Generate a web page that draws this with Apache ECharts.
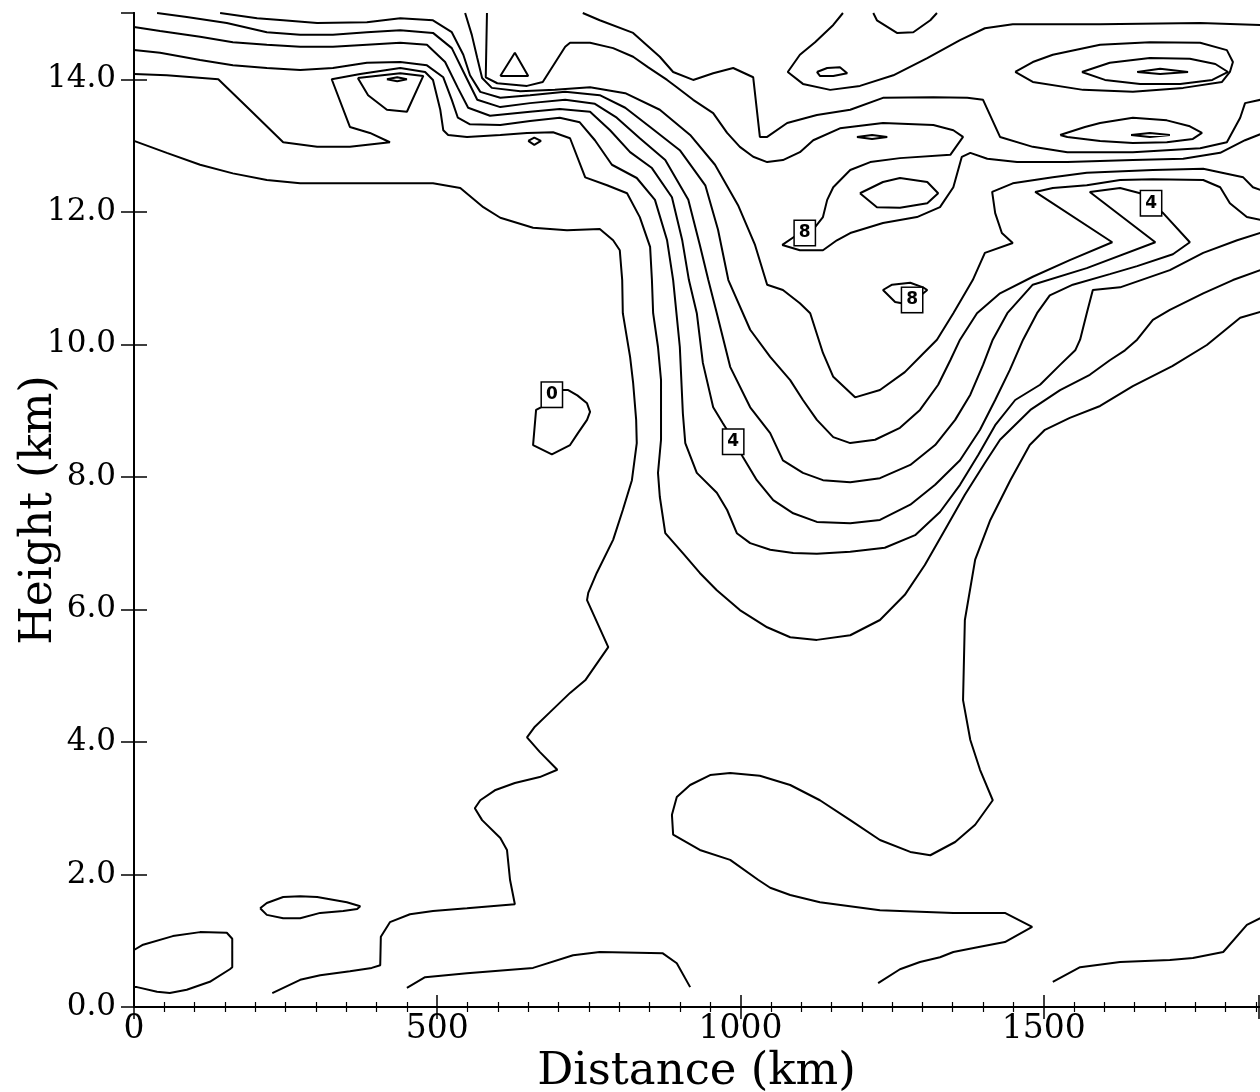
<!DOCTYPE html>
<html>
<head>
<meta charset="utf-8">
<script src="https://cdn.jsdelivr.net/npm/echarts@6/dist/echarts.min.js"></script>
<style>
  html, body { margin: 0; padding: 0; background: #fff; }
  #chart { width: 1260px; height: 1092px; }
</style>
</head>
<body>
<div id="chart"></div>
<script>
// Contour lines of a vertical cross-section, each point [distance (km), height (km)]
const isoWestOuter = [[0,13.07],[54,12.89],[109,12.71],[163,12.58],[219,12.48],[274,12.43],[384,12.43],[493,12.43],[538,12.36],[576,12.07],[604,11.91],[658,11.76],[714,11.72],[768,11.74],[790,11.57],[801,11.42],[805,10.97],[806,10.47],[818,9.81],[823,9.42],[828,8.86],[829,8.51],[821,7.95],[806,7.50],[790,7.05],[763,6.55],[749,6.25],[747,6.14],[782,5.43],[744,4.93],[719,4.74],[686,4.45],[661,4.23],[648,4.07],[669,3.85],[698,3.58],[669,3.47],[628,3.38],[595,3.27],[571,3.12],[562,3.00],[574,2.82],[604,2.55],[615,2.37],[620,1.92],[628,1.55],[549,1.49],[493,1.45],[455,1.40],[422,1.28],[407,1.06],[406,0.63],[392,0.59],[356,0.54],[307,0.48],[274,0.41],[228,0.21]];
const isoZeroCell = [[706,9.31],[716,9.31],[731,9.23],[747,9.11],[752,8.98],[747,8.86],[732,8.66],[719,8.48],[689,8.34],[658,8.48],[656,8.51],[663,9.01],[671,9.05]];
const isoLowLeft = [[0,0.86],[15,0.94],[64,1.07],[109,1.13],[153,1.12],[162,1.03],[162,0.60],[158,0.57],[125,0.38],[87,0.26],[59,0.21],[38,0.23],[5,0.30],[0,0.30]];
const isoLowCell = [[208,1.49],[219,1.57],[246,1.66],[274,1.67],[302,1.66],[351,1.58],[373,1.52],[368,1.48],[345,1.45],[307,1.42],[274,1.34],[246,1.34],[219,1.39],[208,1.49]];
const isoSurfaceMid = [[450,0.29],[480,0.45],[549,0.51],[658,0.59],[724,0.78],[768,0.83],[872,0.81],[895,0.66],[917,0.30]];
const isoSurfaceEast = [[1515,0.38],[1560,0.60],[1626,0.68],[1708,0.71],[1746,0.74],[1796,0.83],[1835,1.24],[1857,1.34]];
const isoEastOuter = [[1857,10.49],[1824,10.40],[1769,9.99],[1712,9.67],[1647,9.37],[1593,9.07],[1543,8.89],[1502,8.71],[1477,8.48],[1445,7.95],[1412,7.35],[1387,6.75],[1370,5.84],[1367,4.63],[1379,4.03],[1395,3.58],[1416,3.12],[1387,2.75],[1354,2.49],[1313,2.29],[1280,2.34],[1230,2.52],[1181,2.82],[1131,3.12],[1082,3.35],[1032,3.49],[983,3.53],[950,3.50],[917,3.35],[895,3.17],[887,2.90],[889,2.60],[933,2.37],[983,2.22],[1029,1.92],[1049,1.80],[1082,1.69],[1131,1.58],[1230,1.46],[1351,1.42],[1436,1.42],[1481,1.21],[1436,0.98],[1395,0.91],[1351,0.83],[1329,0.75],[1296,0.68],[1263,0.57],[1227,0.36]];

// Nested trough lines, outer to inner
const isoTrough2 = [[0,14.08],[54,14.06],[139,14.00],[191,13.54],[246,13.05],[302,12.98],[356,12.98],[422,13.05],[389,13.19],[356,13.28],[326,14.00],[373,14.08],[439,14.17],[480,14.11],[493,13.99],[505,13.54],[510,13.23],[518,13.16],[549,13.13],[604,13.16],[648,13.19],[691,13.20],[719,13.11],[744,12.52],[780,12.40],[813,12.28],[834,11.92],[851,11.47],[854,10.97],[856,10.47],[864,9.96],[869,9.46],[869,8.56],[864,8.06],[867,7.70],[876,7.15],[905,6.85],[933,6.55],[961,6.29],[999,5.99],[1044,5.73],[1082,5.58],[1126,5.54],[1181,5.61],[1230,5.84],[1271,6.22],[1304,6.67],[1337,7.20],[1370,7.73],[1403,8.21],[1428,8.56],[1478,9.01],[1527,9.31],[1576,9.54],[1609,9.76],[1634,9.91],[1654,10.07],[1680,10.37],[1708,10.52],[1763,10.77],[1812,10.97],[1857,11.12]];
const isoTrough3 = [[0,14.44],[43,14.40],[109,14.29],[163,14.21],[219,14.17],[274,14.14],[328,14.17],[384,14.25],[439,14.26],[483,14.21],[510,14.03],[524,13.69],[534,13.42],[554,13.32],[604,13.31],[653,13.37],[702,13.42],[735,13.35],[760,13.08],[788,12.71],[829,12.51],[859,12.18],[879,11.57],[889,10.97],[900,9.96],[905,8.96],[909,8.51],[928,8.06],[961,7.76],[978,7.50],[994,7.15],[1016,7.00],[1049,6.90],[1087,6.85],[1126,6.84],[1181,6.87],[1238,6.93],[1288,7.12],[1329,7.47],[1362,7.88],[1392,8.33],[1420,8.78],[1453,9.16],[1494,9.39],[1527,9.69],[1552,9.91],[1560,10.07],[1571,10.47],[1581,10.82],[1626,10.86],[1708,11.12],[1763,11.38],[1819,11.57],[1857,11.68]];
const isoTrough45 = [[0,14.79],[43,14.73],[109,14.64],[163,14.56],[219,14.52],[274,14.49],[328,14.49],[384,14.52],[439,14.55],[483,14.52],[513,14.26],[534,13.87],[551,13.57],[587,13.45],[653,13.51],[702,13.55],[752,13.51],[785,13.23],[818,12.90],[854,12.66],[887,12.22],[904,11.57],[915,10.97],[928,10.47],[938,9.72],[955,9.05],[971,8.81],[988,8.56],[1004,8.30],[1027,7.95],[1054,7.65],[1087,7.45],[1126,7.32],[1181,7.30],[1230,7.35],[1280,7.58],[1321,7.88],[1362,8.25],[1395,8.71],[1420,9.16],[1444,9.61],[1466,10.07],[1489,10.47],[1510,10.74],[1548,10.90],[1609,11.06],[1654,11.18],[1713,11.36],[1741,11.54],[1697,11.98],[1675,12.13],[1659,12.28],[1626,12.36],[1576,12.30],[1684,11.54],[1571,11.15],[1482,10.90],[1440,10.47],[1416,10.07],[1400,9.69],[1379,9.24],[1354,8.86],[1321,8.48],[1280,8.18],[1230,7.98],[1181,7.92],[1136,7.95],[1103,8.06],[1070,8.25],[1049,8.66],[1016,9.05],[983,9.66],[961,10.47],[947,10.97],[933,11.50],[914,12.18],[876,12.78],[834,13.11],[796,13.42],[760,13.63],[711,13.69],[653,13.64],[604,13.58],[566,13.69],[546,14.06],[524,14.47],[493,14.70],[439,14.74],[384,14.71],[328,14.67],[274,14.67],[219,14.71],[153,14.85],[87,14.94],[38,15.00]];
const isoTrough6 = [[142,15.00],[203,14.92],[246,14.89],[302,14.85],[384,14.86],[439,14.92],[493,14.89],[524,14.71],[543,14.37],[554,14.06],[571,13.81],[604,13.72],[653,13.76],[711,13.81],[768,13.76],[810,13.57],[851,13.28],[900,12.93],[942,12.40],[963,11.73],[980,10.97],[1016,10.22],[1049,9.81],[1082,9.46],[1103,9.16],[1126,8.86],[1153,8.60],[1181,8.51],[1222,8.56],[1263,8.74],[1296,9.01],[1326,9.39],[1346,9.76],[1362,10.07],[1390,10.47],[1428,10.77],[1482,11.02],[1543,11.27],[1613,11.54],[1486,12.30],[1515,12.36],[1571,12.40],[1626,12.48],[1680,12.49],[1763,12.48],[1791,12.37],[1807,12.13],[1835,11.92],[1857,11.88]];
const isoTrough7 = [[546,15.00],[557,14.67],[566,14.32],[574,14.02],[590,13.87],[637,13.82],[694,13.84],[752,13.88],[810,13.79],[867,13.54],[917,13.16],[958,12.71],[996,12.10],[1024,11.50],[1044,10.90],[1070,10.82],[1098,10.62],[1115,10.47],[1136,9.87],[1153,9.51],[1189,9.20],[1230,9.31],[1271,9.58],[1299,9.84],[1324,10.07],[1351,10.47],[1383,10.97],[1403,11.38],[1449,11.53],[1431,11.68],[1420,11.98],[1415,12.30],[1449,12.43],[1515,12.52],[1571,12.59],[1680,12.63],[1763,12.65],[1829,12.52],[1845,12.37],[1857,12.33]];

// Upper-level lines and closed cells
const isoCrest8 = [[582,15.00],[580,14.03],[599,13.94],[648,13.90],[674,13.96],[711,14.49],[719,14.55],[752,14.55],[790,14.47],[823,14.34],[848,14.18],[879,13.99],[895,13.88],[922,13.69],[955,13.49],[978,13.19],[999,12.98],[1021,12.83],[1044,12.75],[1070,12.78],[1098,12.90],[1120,13.08],[1164,13.26],[1235,13.34],[1318,13.31],[1351,13.23],[1367,13.13],[1346,12.86],[1263,12.81],[1214,12.75],[1181,12.63],[1153,12.37],[1143,12.18],[1136,11.92],[1123,11.77],[1093,11.65],[1069,11.50],[1098,11.42],[1136,11.42],[1159,11.57],[1181,11.68],[1235,11.83],[1291,11.92],[1329,12.07],[1351,12.37],[1365,12.83],[1379,12.89],[1407,12.80],[1456,12.75],[1539,12.75],[1647,12.78],[1730,12.80],[1791,12.89],[1832,13.08],[1857,13.17]];
const isoUpperNotch = [[740,15.00],[768,14.89],[823,14.70],[867,14.34],[889,14.11],[922,13.99],[955,14.09],[988,14.17],[1021,14.03],[1032,13.13],[1044,13.13],[1077,13.34],[1126,13.46],[1181,13.54],[1235,13.72],[1318,13.73],[1374,13.72],[1400,13.69],[1428,13.13],[1482,12.98],[1539,12.90],[1647,12.90],[1758,12.96],[1802,13.05],[1824,13.42],[1832,13.64],[1857,13.69]];
const isoUpperHook = [[1169,15.00],[1153,14.82],[1123,14.56],[1098,14.37],[1078,14.11],[1103,13.93],[1148,13.84],[1197,13.90],[1252,14.06],[1308,14.32],[1362,14.59],[1403,14.77],[1449,14.83],[1593,14.83],[1758,14.85],[1857,14.82]];
const isoTopDip = [[1219,15.00],[1225,14.89],[1258,14.70],[1285,14.71],[1313,14.89],[1324,15.00]];
const cellNorth = [[1126,14.11],[1143,14.17],[1164,14.18],[1176,14.09],[1153,14.05],[1131,14.05],[1126,14.11]];
const cellEastOuter = [[1453,14.11],[1482,14.26],[1515,14.37],[1593,14.52],[1675,14.56],[1758,14.55],[1802,14.44],[1812,14.26],[1807,14.11],[1794,13.96],[1730,13.87],[1647,13.81],[1565,13.84],[1482,13.96],[1453,14.11]];
const cellEastMiddle = [[1563,14.11],[1609,14.25],[1675,14.32],[1741,14.31],[1783,14.23],[1804,14.11],[1778,13.99],[1725,13.93],[1659,13.93],[1601,13.99],[1563,14.11]];
const cellEastCore = [[1654,14.11],[1692,14.16],[1738,14.11],[1692,14.08],[1654,14.11]];
const cellEastLower = [[1527,13.16],[1568,13.28],[1593,13.34],[1647,13.42],[1703,13.38],[1741,13.29],[1761,13.19],[1746,13.10],[1703,13.05],[1647,13.04],[1593,13.07],[1539,13.13],[1527,13.16]];
const cellEastLowerCore = [[1644,13.16],[1675,13.19],[1708,13.16],[1675,13.13],[1644,13.16]];
const cellDash = [[1192,13.13],[1217,13.16],[1242,13.13],[1217,13.10],[1192,13.13]];
const cellEye = [[1197,12.28],[1235,12.45],[1263,12.51],[1308,12.45],[1326,12.28],[1308,12.13],[1263,12.06],[1225,12.07],[1197,12.28]];
const cellEight = [[1266,10.62],[1255,10.64],[1235,10.82],[1250,10.90],[1280,10.93],[1301,10.86],[1308,10.82],[1288,10.67],[1266,10.62]];
const cellWestLoop = [[369,14.02],[386,13.76],[417,13.54],[450,13.51],[477,14.05],[439,14.09],[369,14.02]];
const cellWestCore = [[417,14.00],[434,14.03],[450,14.00],[434,13.97],[417,14.00]];
const cellTriangle = [[604,14.05],[628,14.40],[650,14.05],[604,14.05]];
const cellSmall = [[650,13.07],[660,13.12],[671,13.07],[660,13.01],[650,13.07]];

// Contour value labels: [distance, height, value]
const contourLabels = [[689,9.24,0],[988,8.53,4],[1106,11.68,8],[1283,10.67,8],[1677,12.13,4]];

const contours = [isoWestOuter, isoZeroCell, isoLowLeft, isoLowCell, isoSurfaceMid, isoSurfaceEast,
  isoEastOuter, isoTrough2, isoTrough3, isoTrough45, isoTrough6, isoTrough7, isoCrest8,
  isoUpperNotch, isoUpperHook, isoTopDip, cellNorth, cellEastOuter, cellEastMiddle, cellEastCore,
  cellEastLower, cellEastLowerCore, cellDash, cellEye, cellEight, cellWestLoop, cellWestCore,
  cellTriangle, cellSmall];

const serif = 'DejaVu Serif';
const ink = '#000';

function axisX(pos, showLabels) {
  return {
    type: 'value', position: pos, min: 0, max: 1855, interval: 500,
    name: showLabels ? 'Distance (km)' : '', nameLocation: 'middle', nameGap: 43, nameMoveOverlap: false,
    nameTextStyle: { fontFamily: serif, fontSize: 45, color: ink },
    axisLine: { show: true, lineStyle: { color: ink, width: 2 } },
    axisTick: { show: true, inside: true, length: 12, lineStyle: { color: ink, width: 1.5 } },
    minorTick: { show: true, splitNumber: 10, length: 5, lineStyle: { color: ink, width: 1.2 } },
    axisLabel: { show: showLabels, showMaxLabel: false, margin: 6, fontFamily: serif, fontSize: 33, color: ink,
      formatter: v => String(v) },
    splitLine: { show: false }, minorSplitLine: { show: false }
  };
}
function axisY(pos, showLabels) {
  return {
    type: 'value', position: pos, min: 0, max: 15, interval: 2,
    name: showLabels ? 'Height (km)' : '', nameLocation: 'middle', nameGap: 72, nameRotate: 90,
    nameMoveOverlap: false,
    nameTextStyle: { fontFamily: serif, fontSize: 44, color: ink },
    axisLine: { show: true, lineStyle: { color: ink, width: 2 } },
    axisTick: { show: true, inside: true, length: 13, lineStyle: { color: ink, width: 1.5 } },
    axisLabel: { show: showLabels, showMaxLabel: false, margin: 18, fontFamily: serif, fontSize: 31, color: ink,
      formatter: v => v.toFixed(1) },
    splitLine: { show: false }
  };
}

const series = contours.map(c => ({
  type: 'line', data: c, showSymbol: false, silent: true, animation: false,
  lineStyle: { color: ink, width: 2 }, clip: true, z: 2
}));
// Boxed contour values drawn on top of the lines
series.push({
  type: 'scatter', data: contourLabels, symbolSize: 0, silent: true, animation: false, z: 5,
  itemStyle: { opacity: 1 },
  label: {
    show: true, position: 'inside', formatter: p => String(p.value[2]), opacity: 1,
    fontFamily: 'DejaVu Sans', fontWeight: 'bold', fontSize: 17, color: ink,
    backgroundColor: '#fff', borderColor: ink, borderWidth: 1.5, padding: [4, 4, 3, 4]
  }
});

const chart = echarts.init(document.getElementById('chart'), null, { renderer: 'canvas' });
chart.setOption({
  animation: false,
  backgroundColor: '#fff',
  grid: { left: 134, right: 1, top: 13, bottom: 85, containLabel: false, outerBoundsMode: 'none' },
  xAxis: [axisX('bottom', true), axisX('top', false)],
  yAxis: [axisY('left', true), axisY('right', false)],
  series: series
});
</script>
</body>
</html>
